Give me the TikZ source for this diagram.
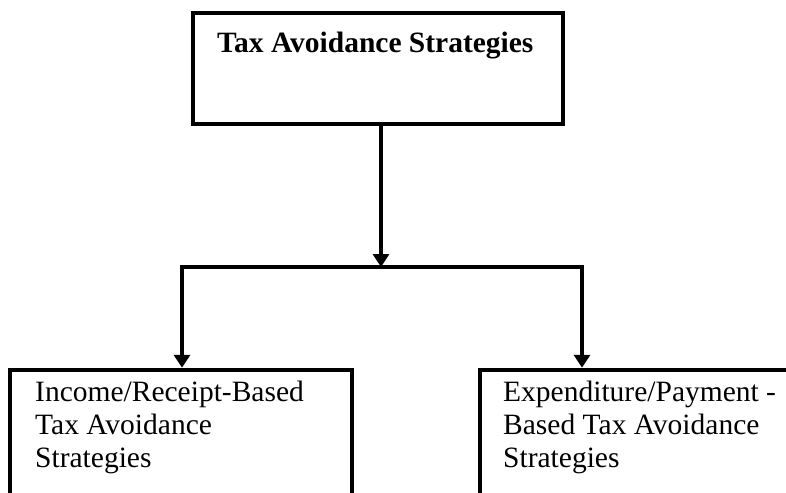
\documentclass[tikz,border=0pt]{standalone}
\usepackage{fontspec}
\setmainfont{Liberation Serif}
\usetikzlibrary{arrows.meta}
\tikzset{
  box/.style={draw=black, line width=4.5pt, rectangle, inner sep=0pt},
  conn/.style={draw=black, line width=3.5pt},
  tip/.style={-{Triangle[width=16pt,length=13pt]}},
  lbl/.style={inner sep=0pt, align=left, anchor=north west, font=\fontsize{29.5}{33}\selectfont}
}
\begin{document}
\begin{tikzpicture}[x=1pt,y=-1pt]
\useasboundingbox[fill=white] (0,0) rectangle (786,492);
% boxes
\node[box, minimum width=370pt, minimum height=111pt] (top) at (378,68.5) {};
\node[box, minimum width=342pt, minimum height=160pt] (lb) at (181,450) {};
\node[box, minimum width=342pt, minimum height=160pt] (rb) at (651,450) {};
% texts
\node[inner sep=0pt, anchor=base west, font=\fontsize{29.5}{33}\selectfont\bfseries] (tt) at (217,53) {Tax Avoidance Strategies};
\node[lbl] (lt) at (35,381) {Income/Receipt-Based\\Tax Avoidance\\Strategies};
\node[lbl] (rt) at (503,381) {Expenditure/Payment -\\Based Tax Avoidance\\Strategies};
% connectors
\coordinate (j) at (381,267);
\coordinate (jl) at (182,267);
\coordinate (jr) at (582,267);
\coordinate (ts) at (381,124);
\draw[conn,tip] (ts) -- (j);
\draw[conn, line cap=rect] (jl) -- (jr);
\draw[conn,tip] (jl) -- (jl |- lb.north);
\draw[conn,tip] (jr) -- (jr |- rb.north);
\end{tikzpicture}
\end{document}
